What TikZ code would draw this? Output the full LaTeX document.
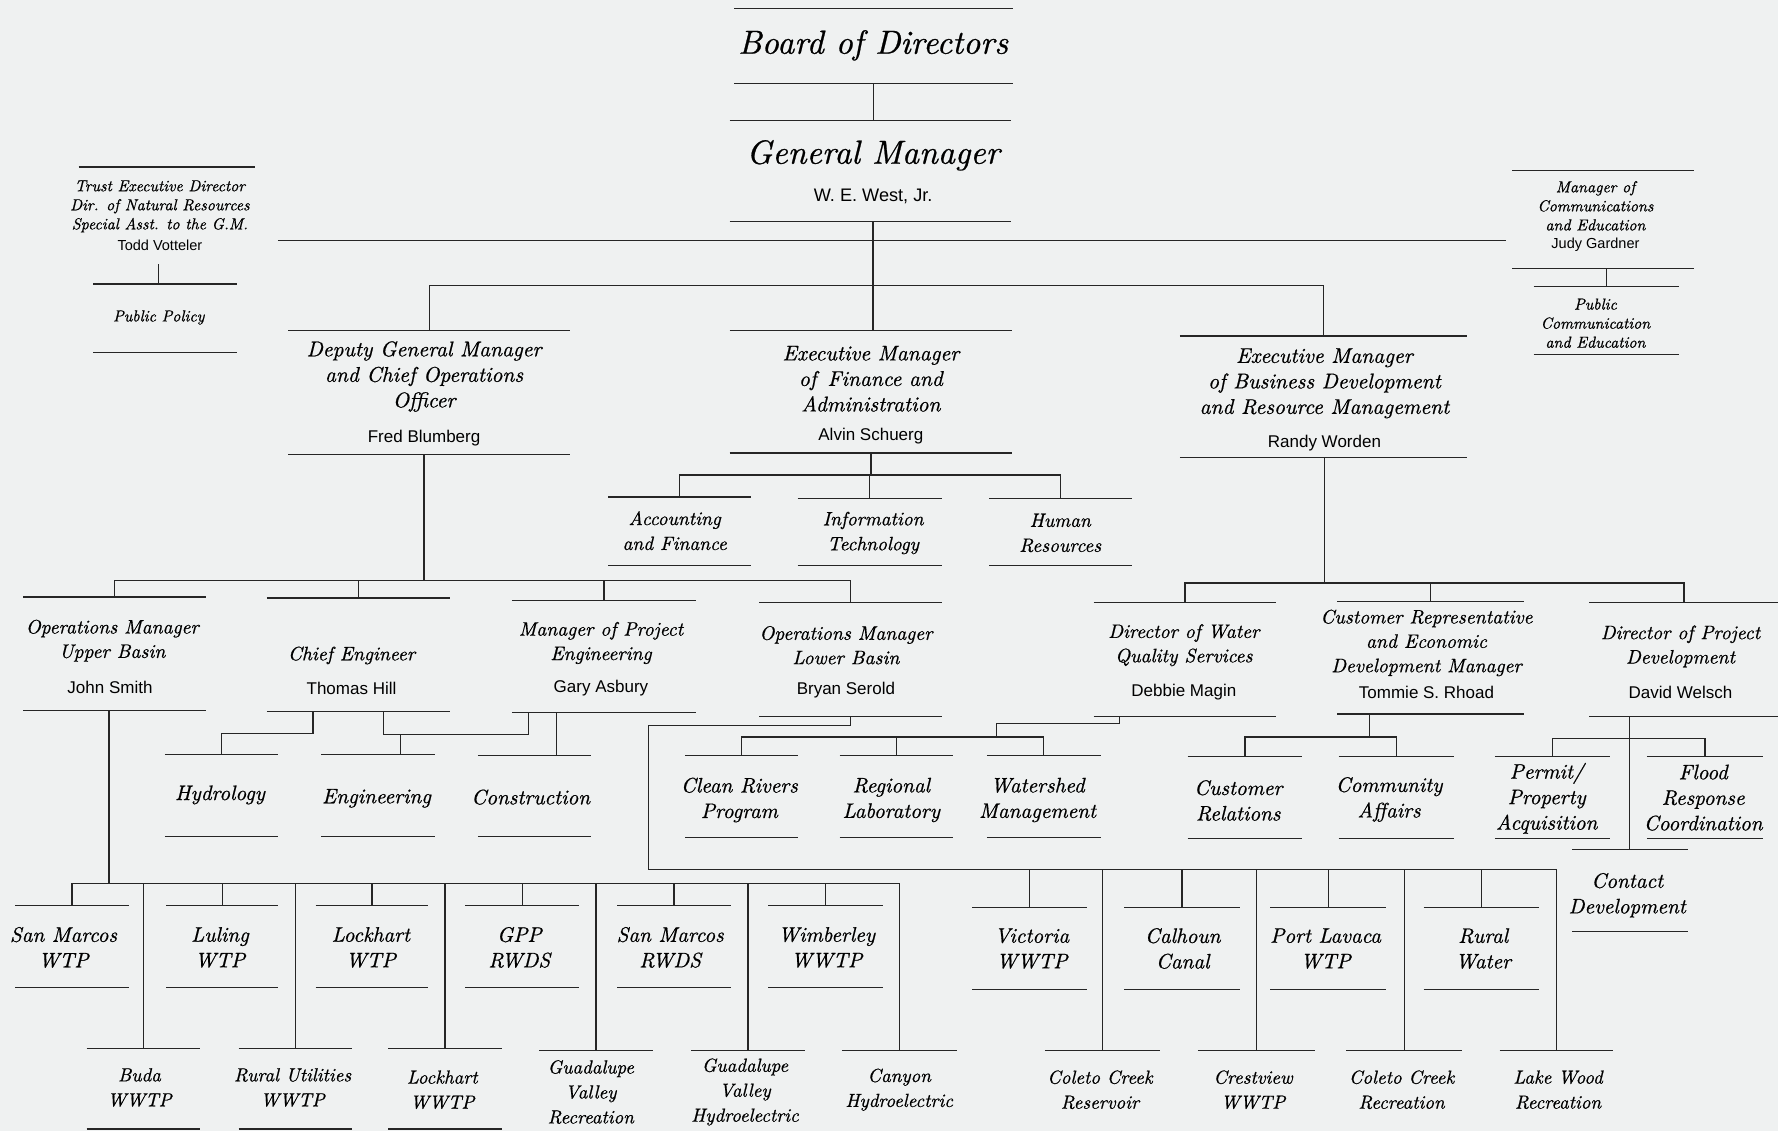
\documentclass[tikz,border=0pt]{standalone}
\usepackage{fontspec}
\newfontfamily\namefont{Liberation Sans}
\newfontfamily\calfont{lmroman10-italic}[Extension=.otf, FakeBold=0.7]
\definecolor{paper}{RGB}{239,241,241}
\definecolor{ink}{RGB}{38,38,38}
\newcommand\fsz[2]{\fontsize{#1}{#2}\selectfont}

\begin{document}
\begin{tikzpicture}[
  x=1pt, y=-1pt,
  line width=1.2pt, color=ink,
  rbox/.style={inner sep=0pt,
    append after command={(\tikzlastnode.north west) edge (\tikzlastnode.north east)
                          (\tikzlastnode.south west) edge (\tikzlastnode.south east)}},
  tbox/.style={inner sep=0pt,
    append after command={(\tikzlastnode.north west) edge (\tikzlastnode.north east)}},
  btitle/.style={text=black, font=\calfont\fsz{29.5}{34}},
  big/.style={text=black, align=center, font=\calfont\fsz{18.8}{22.5}},
  mid/.style={text=black, align=center, font=\calfont\fsz{17.2}{21.5}},
  dept/.style={text=black, align=center, font=\calfont\fsz{18.5}{22.5}},
  fdept/.style={text=black, align=center, font=\calfont\fsz{17}{22}},
  low/.style={text=black, align=center, font=\calfont\fsz{16.7}{22}},
  staff/.style={text=black, align=center, font=\calfont\fsz{14}{16.8}},
  gname/.style={text=black, font=\namefont\fsz{16}{19}},
  nm/.style={text=black, font=\namefont\fsz{15}{18}},
  snm/.style={text=black, font=\namefont\fsz{12.8}{15}}
]
  \useasboundingbox (0,0) rectangle (1568,997);
  \fill[paper] (0,0) rectangle (1568,997);

  % board and general manager
  \node[rbox, minimum width=245pt, minimum height=65pt] (board) at (770.5,40.5) {};
  \node[btitle] (board-t) at (770,40) {Board of Directors};
  \node[rbox, minimum width=247pt, minimum height=88pt] (gm) at (767.5,151) {};
  \node[btitle] (gm-t) at (770,137) {General Manager};
  \node[gname] (gm-n) at (770,173) {W. E. West, Jr.};

  % staff
  \node[tbox, minimum width=154pt, minimum height=85pt] (trust) at (147,190.5) {};
  \node[staff] (trust-t) at (141,182) {Trust Executive Director\\Dir. of Natural Resources\\Special Asst. to the G.M.};
  \node[snm] (trust-n) at (141,216) {Todd Votteler};
  \node[rbox, minimum width=125pt, minimum height=59pt] (pp) at (145.5,280.5) {};
  \node[staff] (pp-t) at (140,280) {Public Policy};
  \node[rbox, minimum width=159pt, minimum height=85pt] (comms) at (1413.5,193.5) {};
  \node[staff] (comms-t) at (1407,181.5) {Manager of\\Communications\\and Education};
  \node[snm] (comms-n) at (1407,216) {Judy Gardner};
  \node[rbox, minimum width=127pt, minimum height=59pt] (pce) at (1416.5,282.5) {};
  \node[staff] (pce-t) at (1407,285) {Public\\Communication\\and Education};

  % executive level
  \node[rbox, minimum width=247pt, minimum height=108pt] (dgm) at (378.5,346) {};
  \node[big] (dgm-t) at (374,332) {Deputy General Manager\\and Chief Operations\\Officer};
  \node[nm] (dgm-n) at (374,386) {Fred Blumberg};
  \node[rbox, minimum width=248pt, minimum height=107pt] (fin) at (768,345.5) {};
  \node[big] (fin-t) at (768,334) {Executive Manager\\of\, Finance and\\Administration};
  \node[nm] (fin-n) at (768,385) {Alvin Schuerg};
  \node[rbox, minimum width=252pt, minimum height=106pt] (bus) at (1167,350) {};
  \node[big] (bus-t) at (1168,338) {Executive Manager\\of Business Development\\and Resource Management};
  \node[nm] (bus-n) at (1168,391) {Randy Worden};

  % finance departments
  \node[rbox, minimum width=125pt, minimum height=59pt] (acc) at (599.5,468.5) {};
  \node[fdept] (acc-t) at (595,468) {Accounting\\and Finance};
  \node[rbox, minimum width=126pt, minimum height=58pt] (it) at (767,469) {};
  \node[fdept] (it-t) at (770,470) {Information\\Technology};
  \node[rbox, minimum width=125pt, minimum height=58pt] (hr) at (935.5,469) {};
  \node[fdept] (hr-t) at (935,470) {Human\\Resources};

  % managers
  \node[rbox, minimum width=160pt, minimum height=99pt] (upb) at (101,576.5) {};
  \node[mid] (upb-t) at (99,565) {Operations Manager\\Upper Basin};
  \node[nm] (upb-n) at (97,606) {John Smith};
  \node[rbox, minimum width=160pt, minimum height=99pt] (ce) at (316,577.5) {};
  \node[mid] (ce-t) at (310,578) {Chief Engineer};
  \node[nm] (ce-n) at (310,607) {Thomas Hill};
  \node[rbox, minimum width=161pt, minimum height=98pt] (pe) at (532.5,579) {};
  \node[mid] (pe-t) at (530,567) {Manager of Project\\Engineering};
  \node[nm] (pe-n) at (530,607) {Gary Asbury};
  \node[rbox, minimum width=160pt, minimum height=99pt] (lb) at (750,581.5) {};
  \node[mid] (lb-t) at (746,569) {Operations Manager\\Lower Basin};
  \node[nm] (lb-n) at (746,609) {Bryan Serold};
  \node[rbox, minimum width=160pt, minimum height=99pt] (wq) at (1045,581.5) {};
  \node[mid] (wq-t) at (1044,569) {Director of Water\\Quality Services};
  \node[nm] (wq-n) at (1044,610) {Debbie Magin};
  \node[rbox, minimum width=163pt, minimum height=98pt] (crep) at (1261.5,580) {};
  \node[mid] (crep-t) at (1258,567) {Customer Representative\\and Economic\\Development Manager};
  \node[nm] (crep-n) at (1258,611) {Tommie S. Rhoad};
  \node[rbox, minimum width=166pt, minimum height=99pt] (pd) at (1485,581.5) {};
  \node[mid] (pd-t) at (1482,570) {Director of Project\\Development};
  \node[nm] (pd-n) at (1482,611) {David Welsch};

  % sections
  \node[rbox, minimum width=99pt, minimum height=71pt] (hyd) at (195.5,701.5) {};
  \node[dept] (hyd-t) at (194,701) {Hydrology};
  \node[rbox, minimum width=99pt, minimum height=71pt] (eng) at (333.5,701.5) {};
  \node[dept] (eng-t) at (332,704) {Engineering};
  \node[rbox, minimum width=99pt, minimum height=70pt] (con) at (471.5,702) {};
  \node[dept] (con-t) at (468,703) {Construction};
  \node[rbox, minimum width=98pt, minimum height=71pt] (cr) at (654,702.5) {};
  \node[dept] (cr-t) at (652,705.5) {Clean Rivers\\Program};
  \node[rbox, minimum width=99pt, minimum height=71pt] (rl) at (790.5,702.5) {};
  \node[dept] (rl-t) at (786,705.5) {Regional\\Laboratory};
  \node[rbox, minimum width=99pt, minimum height=71pt] (ws) at (920.5,702.5) {};
  \node[dept] (ws-t) at (915,705.5) {Watershed\\Management};
  \node[rbox, minimum width=100pt, minimum height=71pt] (cu) at (1098,703.5) {};
  \node[dept] (cu-t) at (1092,706) {Customer\\Relations};
  \node[rbox, minimum width=101pt, minimum height=71pt] (ca) at (1231.5,703.5) {};
  \node[dept] (ca-t) at (1225,705) {Community\\Affairs};
  \node[rbox, minimum width=100pt, minimum height=71pt] (pa) at (1369,703.5) {};
  \node[dept] (pa-t) at (1364,704) {Permit/\\Property\\Acquisition};
  \node[rbox, minimum width=101pt, minimum height=71pt] (fr) at (1503.5,703.5) {};
  \node[dept] (fr-t) at (1502,703.5) {Flood\\Response\\Coordination};
  \node[rbox, minimum width=101pt, minimum height=71pt] (cd) at (1437.5,785.5) {};
  \node[dept] (cd-t) at (1435,789.5) {Contact\\Development};

  % upper basin plants
  \node[rbox, minimum width=99pt, minimum height=71pt] (smw) at (63.5,834.5) {};
  \node[dept] (smw-t) at (56,835.5) {San Marcos\\WTP};
  \node[rbox, minimum width=98pt, minimum height=71pt] (lul) at (196,834.5) {};
  \node[dept] (lul-t) at (194,835.5) {Luling\\WTP};
  \node[rbox, minimum width=98pt, minimum height=71pt] (lkw) at (328,834.5) {};
  \node[dept] (lkw-t) at (327,835.5) {Lockhart\\WTP};
  \node[rbox, minimum width=99pt, minimum height=71pt] (gpp) at (460.5,834.5) {};
  \node[dept] (gpp-t) at (458,835.5) {GPP\\RWDS};
  \node[rbox, minimum width=99pt, minimum height=71pt] (smr) at (594.5,834.5) {};
  \node[dept] (smr-t) at (591,835.5) {San Marcos\\RWDS};
  \node[rbox, minimum width=100pt, minimum height=71pt] (wim) at (728,834.5) {};
  \node[dept] (wim-t) at (729,835.5) {Wimberley\\WWTP};
  \node[rbox, minimum width=99pt, minimum height=70pt] (bud) at (126.5,960) {};
  \node[low] (bud-t) at (123,959) {Buda\\WWTP};
  \node[rbox, minimum width=99pt, minimum height=70pt] (rut) at (260.5,960) {};
  \node[low] (rut-t) at (258,959) {Rural Utilities\\WWTP};
  \node[rbox, minimum width=99pt, minimum height=70pt] (lkww) at (392.5,960) {};
  \node[low] (lkww-t) at (390,961) {Lockhart\\WWTP};
  \node[tbox, minimum width=99pt, minimum height=70pt] (gvr) at (525.5,962) {};
  \node[low] (gvr-t) at (521,963) {Guadalupe\\Valley\\Recreation};
  \node[tbox, minimum width=99pt, minimum height=70pt] (gvh) at (659.5,962) {};
  \node[low] (gvh-t) at (657,963) {Guadalupe\\Valley\\Hydroelectric};
  \node[tbox, minimum width=100pt, minimum height=70pt] (cy) at (793,962) {};
  \node[low] (cy-t) at (793,961) {Canyon\\Hydroelectric};

  % lower basin plants
  \node[rbox, minimum width=100pt, minimum height=71pt] (vic) at (908,836.5) {};
  \node[dept] (vic-t) at (910,836.5) {Victoria\\WWTP};
  \node[rbox, minimum width=101pt, minimum height=71pt] (cal) at (1042.5,836.5) {};
  \node[dept] (cal-t) at (1043,836.5) {Calhoun\\Canal};
  \node[rbox, minimum width=101pt, minimum height=71pt] (plv) at (1171.5,836.5) {};
  \node[dept] (plv-t) at (1169,836.5) {Port Lavaca\\WTP};
  \node[rbox, minimum width=101pt, minimum height=71pt] (rw) at (1306.5,836.5) {};
  \node[dept] (rw-t) at (1308,836.5) {Rural\\Water};
  \node[tbox, minimum width=100pt, minimum height=70pt] (ccr) at (972,962) {};
  \node[low] (ccr-t) at (970,961) {Coleto Creek\\Reservoir};
  \node[tbox, minimum width=102pt, minimum height=70pt] (cvw) at (1108,962) {};
  \node[low] (cvw-t) at (1105,961) {Crestview\\WWTP};
  \node[tbox, minimum width=101pt, minimum height=70pt] (ccrec) at (1238.5,962) {};
  \node[low] (ccrec-t) at (1236,961) {Coleto Creek\\Recreation};
  \node[tbox, minimum width=99pt, minimum height=70pt] (lw) at (1372.5,962) {};
  \node[low] (lw-t) at (1374,961) {Lake Wood\\Recreation};

  % branch points
  \coordinate (staffL) at (245,212);
  \coordinate (staffR) at (1328,212);
  \coordinate (gmbr) at (770,252);
  \coordinate (ppc) at (140,233);
  \coordinate (finbr) at (768,419);
  \coordinate (dgmbr) at (374,512);
  \coordinate (busbr) at (1168,514);
  \coordinate (ce-a) at (276,647);
  \coordinate (ce-b) at (338,648);
  \coordinate (pe-a) at (466,648);
  \coordinate (pe-b) at (491,667);
  \coordinate (eng-a) at (353,648);
  \coordinate (lb-a) at (572,640);
  \coordinate (lbbr) at (572,767);
  \coordinate (wq-a) at (987,638);
  \coordinate (wqbr) at (879,650);
  \coordinate (crep-a) at (1208,650);
  \coordinate (pdbr) at (1437,651);
  \coordinate (upbbr) at (96,779);

  % top edges
  \draw (board.south) -- (board.south |- gm.north);
  \draw (gmbr |- gm.south) -- (gmbr |- fin.north);
  \draw (staffL) -- (staffR);
  \draw (ppc) -- (ppc |- pp.north);
  \draw (comms.south -| pce.north) -- (pce.north);
  \draw (dgm.north) |- (gmbr) -| (bus.north);

  % finance edges
  \draw (fin.south) -- (finbr);
  \draw (acc.north) |- (finbr) -| (hr.north);
  \draw (it.north) -- (it.north |- finbr);

  % deputy edges
  \draw (dgmbr |- dgm.south) -- (dgmbr);
  \draw (upb.north) |- (dgmbr) -| (lb.north);
  \draw (ce.north) -- (ce.north |- dgmbr);
  \draw (pe.north) -- (pe.north |- dgmbr);
  \draw (ce-a |- ce.south) -- (ce-a) -| (hyd.north);
  \draw (ce-b |- ce.south) -- (ce-b) -- (pe-a) -- (pe-a |- pe.south);
  \draw (eng-a) -- (eng-a |- eng.north);
  \draw (pe-b |- pe.south) -- (pe-b);

  % business edges
  \draw (busbr |- bus.south) -- (busbr);
  \draw (wq.north) |- (busbr) -| (pd.north);
  \draw (crep.north) -- (crep.north |- busbr);
  \draw (wq-a |- wq.south) -- (wq-a) -| (wqbr);
  \draw (cr.north) |- (wqbr) -| (ws.north);
  \draw (rl.north) -- (rl.north |- wqbr);
  \draw (crep-a |- crep.south) -- (crep-a);
  \draw (cu.north) |- (crep-a) -| (ca.north);
  \draw (pdbr |- pd.south) -- (pdbr |- cd.north);
  \draw (pa.north) |- (pdbr) -| (fr.north);

  % upper basin edges
  \draw (upbbr |- upb.south) -- (upbbr);
  \draw (smw.north) |- (upbbr) -| (cy.north);
  \draw (lul.north) -- (lul.north |- upbbr);
  \draw (lkw.north) -- (lkw.north |- upbbr);
  \draw (gpp.north) -- (gpp.north |- upbbr);
  \draw (smr.north) -- (smr.north |- upbbr);
  \draw (wim.north) -- (wim.north |- upbbr);
  \draw (bud.north) -- (bud.north |- upbbr);
  \draw (rut.north) -- (rut.north |- upbbr);
  \draw (lkww.north) -- (lkww.north |- upbbr);
  \draw (gvr.north) -- (gvr.north |- upbbr);
  \draw (gvh.north) -- (gvh.north |- upbbr);

  % lower basin edges
  \draw (lb.south) |- (lb-a) -- (lbbr) -| (lw.north);
  \draw (vic.north) -- (vic.north |- lbbr);
  \draw (cal.north) -- (cal.north |- lbbr);
  \draw (plv.north) -- (plv.north |- lbbr);
  \draw (rw.north) -- (rw.north |- lbbr);
  \draw (ccr.north) -- (ccr.north |- lbbr);
  \draw (cvw.north) -- (cvw.north |- lbbr);
  \draw (ccrec.north) -- (ccrec.north |- lbbr);

\end{tikzpicture}
\end{document}
